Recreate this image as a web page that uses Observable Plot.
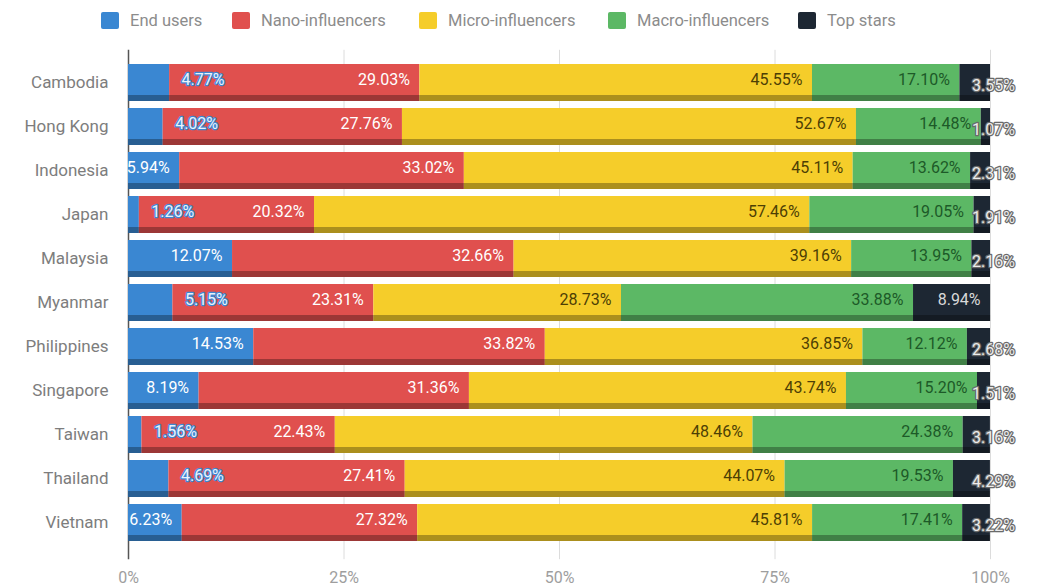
<!DOCTYPE html>
<html><head><meta charset="utf-8">
<script src="https://cdn.jsdelivr.net/npm/d3@7"></script>
<script src="https://cdn.jsdelivr.net/npm/@observablehq/plot@0.6"></script>
<style>
body{margin:0;background:#fff;font-family:Roboto,sans-serif;}
#legend{height:40px;position:relative;}
.item{position:absolute;top:11px;display:flex;align-items:center;font-size:16.5px;color:#8c8c8c;white-space:nowrap;}
.sw{width:18px;height:17px;border-radius:2px;margin-right:11px;}
</style></head>
<body><div id="legend"></div><div id="chart"></div>
<script>
const countries = ["Cambodia","Hong Kong","Indonesia","Japan","Malaysia","Myanmar","Philippines","Singapore","Taiwan","Thailand","Vietnam"];
const series = ["End users","Nano-influencers","Micro-influencers","Macro-influencers","Top stars"];
const colors = ["#3a87d2","#e0504e","#f5cd2a","#5cb865","#1d2733"];
const endUsers = [4.77,4.02,5.94,1.26,12.07,5.15,14.53,8.19,1.56,4.69,6.23];
const nano = [29.03,27.76,33.02,20.32,32.66,23.31,33.82,31.36,22.43,27.41,27.32];
const micro = [45.55,52.67,45.11,57.46,39.16,28.73,36.85,43.74,48.46,44.07,45.81];
const macro = [17.10,14.48,13.62,19.05,13.95,33.88,12.12,15.20,24.38,19.53,17.41];
const topStars = [3.55,1.07,2.31,1.91,2.16,8.94,2.68,1.51,3.16,4.29,3.22];
const xTicks = [0,25,50,75,100];

// legend
const legendLefts = [101,232,419,608,798];
const legend = document.getElementById("legend");
series.forEach((s,i)=>{
  const it = document.createElement("div");
  it.className="item"; it.style.left=legendLefts[i]+"px";
  it.innerHTML = `<span class="sw" style="background:${colors[i]}"></span><span>${s}</span>`;
  legend.appendChild(it);
});

const data = [];
countries.forEach((c,i)=>{
  [endUsers,nano,micro,macro,topStars].forEach((arr,j)=>data.push({country:c, series:series[j], value:arr[i]}));
});
const fmt = v => v.toFixed(2)+"%";
const st = {x:"value", y:"country", z:"series", order: series};
const lbl = (pred) => d => pred(d) ? fmt(d.value) : "";

const chart = Plot.plot({
  width:1038, height:546,
  marginLeft:128, marginRight:48, marginTop:15.8, marginBottom:36.8,
  style:{fontFamily:"Roboto, sans-serif", background:"#fff"},
  x:{domain:[0,100], label:null, axis:null},
  y:{domain:countries, padding:0.163, label:null, axis:null},
  color:{domain:series, range:colors},
  marks:[
    Plot.ruleX([25,50,75,100], {stroke:"#dcdcdc", strokeWidth:1, insetBottom:-10, insetTop:-6}),
    Plot.ruleX([0], {stroke:"#555", strokeWidth:1.5, insetBottom:-10, insetTop:-6}),
    Plot.barX(data, Plot.stackX({...st, fill:"series"})),
    Plot.barX(data, Plot.stackX({...st, fill:"#000", fillOpacity:0.3, insetTop:31})),
    Plot.text(data, Plot.stackX2({...st, text: lbl(d => (d.series==="End users" && d.value>=5.5) || d.series==="Nano-influencers"), textAnchor:"end", dx:-10, dy:-3, fill:"#fff", fontSize:16})),
    Plot.text(data, Plot.stackX2({...st, text: lbl(d => d.series==="Micro-influencers"), textAnchor:"end", dx:-10, dy:-3, fill:"#4d3f05", fontSize:16})),
    Plot.text(data, Plot.stackX2({...st, text: lbl(d => d.series==="Macro-influencers"), textAnchor:"end", dx:-10, dy:-3, fill:"#1d5a28", fontSize:16})),
    Plot.text(data, Plot.stackX2({...st, text: lbl(d => d.series==="Top stars" && d.value>=5), textAnchor:"end", dx:-10, dy:-3, fill:"#d9d9d9", fontSize:16})),
    Plot.text(data, Plot.stackX2({...st, text: lbl(d => d.series==="End users" && d.value<5.5), textAnchor:"start", dx:12, dy:-3, fill:"#eaf2fb", stroke:"#3f86d0", strokeWidth:2.5, fontSize:16})),
    Plot.text(data, Plot.stackX2({...st, text: lbl(d => d.series==="Top stars" && d.value<5), textAnchor:"middle", dx:3, dy:3, fill:"#ececec", stroke:"#6a6a6a", strokeWidth:2.5, fontSize:16})),
    Plot.axisX(xTicks, {tickFormat:d=>d+"%", tickSize:0, tickPadding:22, fontSize:16, color:"#9e9e9e", label:null}),
    Plot.axisY({tickSize:0, tickPadding:20, fontSize:17, color:"#7d7d7d", label:null})
  ]
});
document.getElementById("chart").appendChild(chart);
</script>
</body></html>
